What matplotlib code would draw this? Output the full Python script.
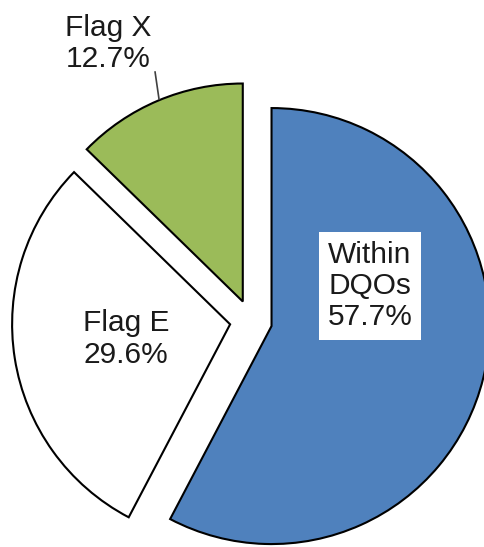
import matplotlib
matplotlib.use("Agg")
import matplotlib.pyplot as plt

labels = ["Within\nDQOs", "Flag E", "Flag X"]
shares = [57.7, 29.6, 12.7]
colors = ["#4F81BD", "#FFFFFF", "#9BBB59"]

plt.rcParams['font.family'] = ['Liberation Sans', 'DejaVu Sans']

fig = plt.figure(figsize=(4.84, 5.47), dpi=100)
ax = fig.add_axes([0, 0, 1, 1])

wedges, _ = ax.pie(shares, colors=colors, startangle=90, counterclock=False,
                   explode=[0.097] * 3, radius=1.0,
                   wedgeprops=dict(edgecolor="black", linewidth=1.5))

# pie centre sits at pixel (251, 321), radius 218 px
scale = 218.0
ax.set_xlim(-251 / scale, (484 - 251) / scale)
ax.set_ylim(-(547 - 321) / scale, 321 / scale)
ax.set_aspect("auto")
ax.axis("off")

fs = 21.5
ax.text(0.546, 0.160, "{}\n{:.1f}%".format(labels[0], shares[0]),
        ha="center", va="center", fontsize=fs, color="#1a1a1a", linespacing=1.15,
        bbox=dict(facecolor="white", edgecolor="none", pad=6))
ax.text(-0.573, -0.083, "{}\n{:.1f}%".format(labels[1], shares[1]),
        ha="center", va="center", fontsize=fs, color="#1a1a1a", linespacing=1.15)
ax.text(-0.656, 1.272, "{}\n{:.1f}%".format(labels[2], shares[2]),
        ha="center", va="center", fontsize=fs, color="#1a1a1a", linespacing=1.15)
ax.plot([-0.422, -0.440], [1.018, 1.142], color="#404040", linewidth=1.2)

fig.savefig("out.png", dpi=100)
